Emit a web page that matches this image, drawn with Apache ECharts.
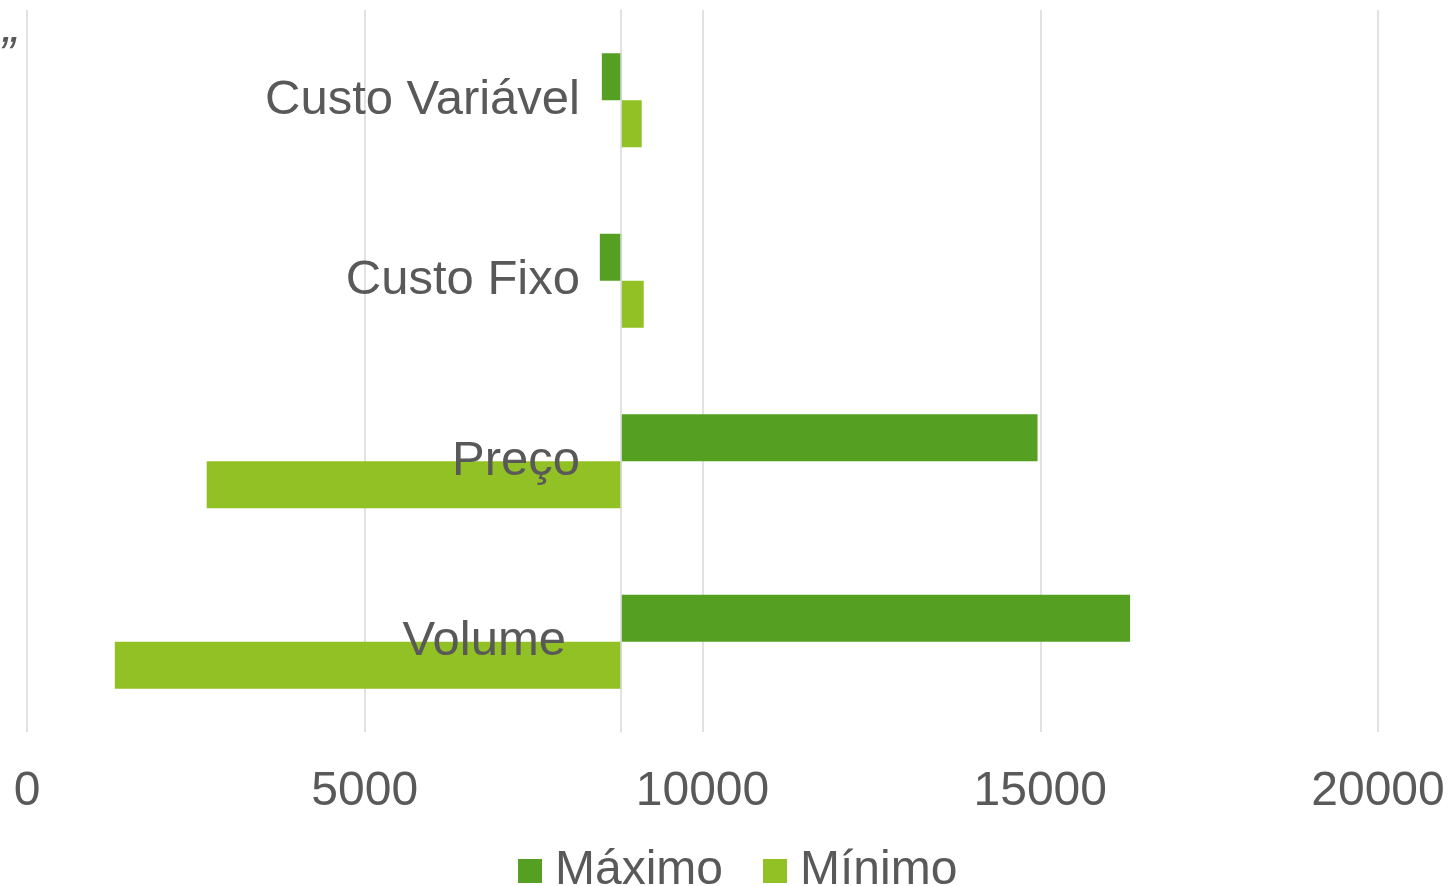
<!DOCTYPE html>
<html>
<head>
<meta charset="utf-8">
<script src="https://cdn.jsdelivr.net/npm/echarts@6/dist/echarts.min.js"></script>
<style>html,body{margin:0;padding:0;background:#fff}#c{width:1450px;height:886px}</style>
</head>
<body>
<div id="c"></div>
<script>
const categories = ['Custo Variável', 'Custo Fixo', 'Preço', 'Volume'];
const baseValue = 8800;
const maximo = [8510, 8480, 14960, 16330];
const minimo = [9100, 9130, 2660, 1300];
const xTicks = [0, 5000, 10000, 15000, 20000];

const colMax = '#55A022';
const colMin = '#92C125';
const txt = '#595959';
const font = 'Liberation Sans, Arial, sans-serif';

const helper = arr => arr.map(v => Math.min(baseValue, v));
const span = arr => arr.map(v => Math.abs(v - baseValue));

const chart = echarts.init(document.getElementById('c'));
chart.setOption({
  animation: false,
  grid: { left: 27, right: 72, top: 10, bottom: 154, containLabel: false, outerBoundsMode: 'none' },
  legend: {
    data: ['Máximo', 'Mínimo'],
    top: 842,
    left: 513,
    icon: 'rect',
    itemWidth: 24,
    itemHeight: 24,
    itemGap: 40,
    textStyle: { fontSize: 48, color: txt, fontFamily: font, padding: [0, 0, 0, 8] }
  },
  xAxis: {
    type: 'value',
    min: xTicks[0],
    max: xTicks[xTicks.length - 1],
    interval: 5000,
    axisLine: { show: false },
    axisTick: { show: false },
    splitLine: { show: true, lineStyle: { color: '#d9d9d9', width: 1.5 } },
    axisLabel: { fontSize: 48, color: txt, fontFamily: font, margin: 36, formatter: v => String(v) }
  },
  yAxis: {
    type: 'category',
    inverse: true,
    data: categories.map(c => c === 'Volume' ? { value: c, textStyle: { padding: [0, 14, 0, 0] } } : c),
    offset: -594,
    axisLine: { show: true, lineStyle: { color: '#d9d9d9', width: 1.5 } },
    axisTick: { show: false },
    axisLabel: { fontSize: 49, color: txt, fontFamily: font, margin: 41 },
    z: 10
  },
  graphic: [{
    type: 'text', left: -2, top: 33,
    style: { text: '”', fontSize: 50, fill: txt, fontFamily: font, fontStyle: 'italic' }
  }],
  series: [
    { name: 'h1', type: 'bar', stack: 'max', data: helper(maximo), itemStyle: { color: 'transparent' }, barGap: '0%', barCategoryGap: '48%', silent: true, z: 1 },
    { name: 'Máximo', type: 'bar', stack: 'max', data: span(maximo), itemStyle: { color: colMax }, barGap: '0%', barCategoryGap: '48%', z: 2 },
    { name: 'h2', type: 'bar', stack: 'min', data: helper(minimo), itemStyle: { color: 'transparent' }, barGap: '0%', barCategoryGap: '48%', silent: true, z: 1 },
    { name: 'Mínimo', type: 'bar', stack: 'min', data: span(minimo), itemStyle: { color: colMin }, barGap: '0%', barCategoryGap: '48%', z: 2 }
  ]
});
</script>
</body>
</html>
